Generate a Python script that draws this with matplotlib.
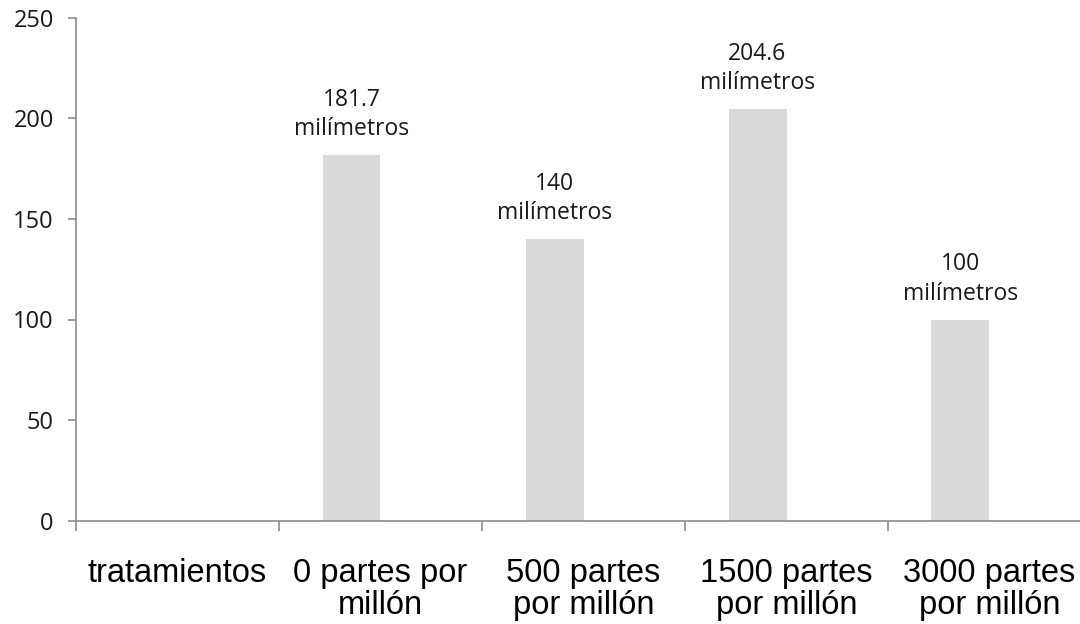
import numpy as np
from matplotlib import pyplot as plt

categories = ['tratamientos', '0 partes por\nmillón', '500 partes\npor millón',
              '1500 partes\npor millón', '3000 partes\npor millón']
values = [np.nan, 181.7, 140, 204.6, 100]
bar_labels = ['', '181.7\nmilímetros', '140\nmilímetros', '204.6\nmilímetros', '100\nmilímetros']

W, H = 1080, 624
fig = plt.figure(figsize=(W / 100, H / 100), dpi=100)
# axes runs a bit past the right edge, as in the original
ax = fig.add_axes([76 / W, (H - 520.5) / H, 1015 / W, 502.5 / H])

bw = 1 / 3.5
x = np.arange(len(categories))
bars = ax.bar(x - bw / 2, values, width=bw, color='#d9d9d9', edgecolor='none')

for xi, v, lab in zip(x, values, bar_labels):
    if np.isnan(v):
        continue
    ax.annotate(lab, (xi - bw / 2, v), xytext=(0, 10), textcoords='offset points',
                ha='center', va='bottom', fontsize=16.5, family='Open Sans',
                color='#1a1a1a', linespacing=1.3)

ax.set_xlim(-0.5, len(categories) - 0.5)
ax.set_ylim(0, 250)
ax.set_yticks([0, 50, 100, 150, 200, 250])

# category labels in the middle, tick marks at the boundaries
ax.set_xticks(np.arange(len(categories) + 1) - 0.5)
ax.set_xticklabels([])
ax.set_xticks(x, minor=True)
ax.set_xticklabels(categories, minor=True, fontsize=23.5, family='Liberation Sans',
                   color='#000000', linespacing=1.05)
ax.tick_params(axis='x', which='minor', length=0, pad=27)
ax.tick_params(axis='x', which='major', length=7, width=1.2, color='#8c8c8c', direction='out')
ax.tick_params(axis='y', length=6, width=1.2, color='#8c8c8c', direction='out', pad=10)
for t in ax.get_yticklabels():
    t.set_fontsize(17)
    t.set_family('Open Sans')
    t.set_color('#1a1a1a')

for s in ['top', 'right']:
    ax.spines[s].set_visible(False)
for s in ['left', 'bottom']:
    ax.spines[s].set_color('#8c8c8c')
    ax.spines[s].set_linewidth(1.2)

fig.savefig('out.png', dpi=100)
